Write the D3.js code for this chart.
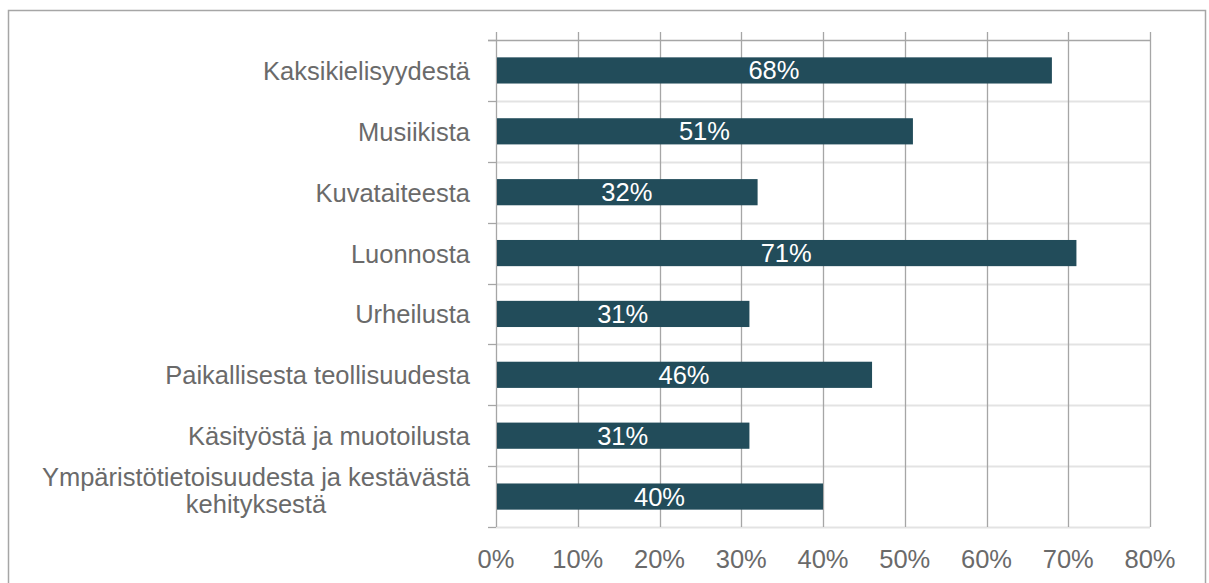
<!DOCTYPE html>
<html>
<head>
<meta charset="utf-8">
<script src="https://cdn.jsdelivr.net/npm/d3@7"></script>
<style>
  body { margin: 0; background: #fff; }
  text { font-family: "Liberation Sans", Arial, sans-serif; }
</style>
</head>
<body>
<svg id="chart"></svg>
<script>
var categories = [
  ['Kaksikielisyydestä'],
  ['Musiikista'],
  ['Kuvataiteesta'],
  ['Luonnosta'],
  ['Urheilusta'],
  ['Paikallisesta teollisuudesta'],
  ['Käsityöstä ja muotoilusta'],
  ['Ympäristötietoisuudesta ja kestävästä', 'kehityksestä']
];
var values = [68, 51, 32, 71, 31, 46, 31, 40];
var tickValues = [0, 10, 20, 30, 40, 50, 60, 70, 80];

var svgWidth = 1209;
var svgHeight = 583;

var plotLeft = 496;
var plotRight = 1150;
var plotTop = 40;
var plotBottom = 527;
var fontSize = 25.5;
var textColor = '#6a6a6a';

var svg = d3.select('#chart').attr('width', svgWidth).attr('height', svgHeight);

// outer frame
svg.append('rect')
   .attr('x', 8.5).attr('y', 10.5)
   .attr('width', 1197).attr('height', 600)
   .attr('fill', 'none').attr('stroke', '#a6a6a6').attr('stroke-width', 1.5);

var xScale = d3.scaleLinear().domain([0, 80]).range([plotLeft, plotRight]);
var yScale = d3.scaleBand()
   .domain(d3.range(categories.length))
   .range([plotTop, plotBottom])
   .paddingInner(0.57).paddingOuter(0.285);

var bandStep = (plotBottom - plotTop) / categories.length;

// light horizontal lines at category boundaries
svg.append('g').selectAll('line')
   .data(d3.range(1, categories.length + 1))
   .enter().append('line')
   .attr('x1', plotLeft).attr('x2', plotRight)
   .attr('y1', (i) => Math.round(plotTop + i * bandStep) + 0.5)
   .attr('y2', (i) => Math.round(plotTop + i * bandStep) + 0.5)
   .attr('stroke', '#e3e3e3').attr('stroke-width', 2);

// vertical gridlines
svg.append('g').selectAll('line')
   .data(tickValues)
   .enter().append('line')
   .attr('x1', (d) => Math.round(xScale(d)) + 0.5)
   .attr('x2', (d) => Math.round(xScale(d)) + 0.5)
   .attr('y1', plotTop - 8).attr('y2', plotBottom)
   .attr('stroke', '#a6a6a6').attr('stroke-width', 1.3);

// top line
svg.append('line')
   .attr('x1', plotLeft - 8).attr('x2', plotRight)
   .attr('y1', plotTop + 0.5).attr('y2', plotTop + 0.5)
   .attr('stroke', '#a6a6a6').attr('stroke-width', 1.3);

// left axis ticks
svg.append('g').selectAll('line')
   .data(d3.range(0, categories.length + 1))
   .enter().append('line')
   .attr('x1', plotLeft - 8).attr('x2', plotLeft)
   .attr('y1', (i) => Math.round(plotTop + i * bandStep) + 0.5)
   .attr('y2', (i) => Math.round(plotTop + i * bandStep) + 0.5)
   .attr('stroke', '#a6a6a6').attr('stroke-width', 1.3);

// bars
svg.append('g').selectAll('rect')
   .data(values)
   .enter().append('rect')
   .attr('x', xScale(0) + 1)
   .attr('y', (d, i) => yScale(i))
   .attr('width', (d) => xScale(d) - xScale(0) - 1)
   .attr('height', yScale.bandwidth())
   .attr('fill', '#224c5a');

// value labels
svg.append('g').selectAll('text')
   .data(values)
   .enter().append('text')
   .attr('x', (d) => (xScale(0) + xScale(d)) / 2)
   .attr('y', (d, i) => yScale(i) + yScale.bandwidth() / 2 + 9)
   .attr('text-anchor', 'middle')
   .attr('fill', '#ffffff')
   .attr('font-size', fontSize)
   .text((d) => d + '%');

// x tick labels
svg.append('g').selectAll('text')
   .data(tickValues)
   .enter().append('text')
   .attr('x', (d) => xScale(d))
   .attr('y', 568)
   .attr('text-anchor', 'middle')
   .attr('fill', textColor)
   .attr('font-size', fontSize)
   .text((d) => d + '%');

// category labels
var labelRight = 470;
var labelG = svg.append('g');
categories.forEach(function(lines, i) {
  var cy = yScale(i) + yScale.bandwidth() / 2;
  if (lines.length === 1) {
    labelG.append('text')
      .attr('x', labelRight).attr('y', cy + 9.5)
      .attr('text-anchor', 'end')
      .attr('fill', textColor).attr('font-size', fontSize)
      .text(lines[0]);
  } else {
    var first = labelG.append('text')
      .attr('x', labelRight).attr('y', cy - 11)
      .attr('text-anchor', 'end')
      .attr('fill', textColor).attr('font-size', fontSize)
      .text(lines[0]);
    var w = first.node().getComputedTextLength();
    var center = labelRight - w / 2;
    first.attr('text-anchor', 'middle').attr('x', center);
    labelG.append('text')
      .attr('x', center).attr('y', cy + 16.5)
      .attr('text-anchor', 'middle')
      .attr('fill', textColor).attr('font-size', fontSize)
      .text(lines[1]);
  }
});
</script>
</body>
</html>
